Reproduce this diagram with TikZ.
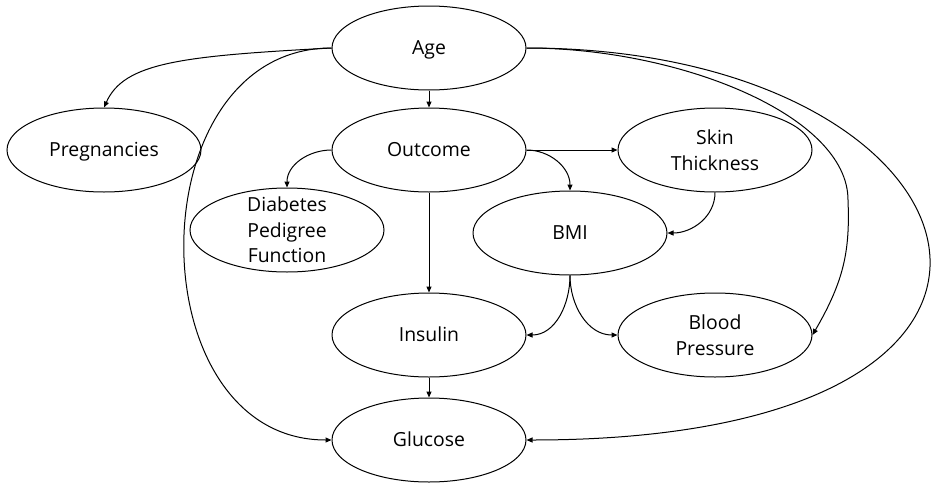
\documentclass[tikz,border=0pt]{standalone}
\usepackage{fontspec}
\setmainfont{Open Sans}
\usetikzlibrary{shapes.geometric,arrows.meta}
\begin{document}
\begin{tikzpicture}[x=1pt,y=1pt,
  var/.style={ellipse,draw,line width=1pt,minimum width=194pt,minimum height=84pt,
    inner xsep=0pt,inner ysep=-15pt,align=center,
    font=\fontsize{19.4}{25.5}\selectfont},
  oneline/.style={text height=13.5pt,text depth=0pt},
  edge/.style={line width=1pt,-{Triangle[length=6pt,width=5pt]}}
]
\useasboundingbox (0,0) rectangle (937,-482);

% variables
\node[var,oneline] (age)     at (429,-48)  {Age};
\node[var,oneline] (preg)    at (104,-150) {Pregnancies};
\node[var,oneline] (outcome) at (429,-150) {Outcome};
\node[var]         (skin)    at (715,-150) {Skin\\Thickness};
\node[var]         (diab)    at (287,-230) {Diabetes\\Pedigree\\Function};
\node[var,oneline] (bmi)     at (570,-233) {BMI};
\node[var,oneline] (insulin) at (429,-335) {Insulin};
\node[var]         (bp)      at (715,-335) {Blood\\Pressure};
\node[var,oneline] (glucose) at (429,-440) {Glucose};

% bend point of the age -> blood pressure edge
\coordinate (bpv) at (848,-200);

% edges
\draw[edge] (age) -- (outcome);
\draw[edge] (age.west) .. controls +(-150,-8) and +(20,45) .. (preg.north);
\draw[edge] (age.west) .. controls +(-196,0) and +(-196,0) .. (glucose.west);
\draw[edge] (age.east) .. controls +(154,0) and +(0,84) .. (bpv)
                       .. controls +(2,-50) and +(32,55) .. (bp.east);
\draw[edge] (age.east) .. controls +(470,0) and +(600,0) .. (glucose.east);

\draw[edge] (outcome.west) to[out=180,in=90] (diab.north);
\draw[edge] (outcome) -- (skin);
\draw[edge] (outcome.east) to[out=0,in=90] (bmi.north);
\draw[edge] (outcome) -- (insulin);

\draw[edge] (skin.south) to[out=-90,in=0] (bmi.east);
\draw[edge] (bmi.south) to[out=-90,in=0] (insulin.east);
\draw[edge] (bmi.south) to[out=-90,in=180] (bp.west);
\draw[edge] (insulin) -- (glucose);
\end{tikzpicture}
\end{document}
